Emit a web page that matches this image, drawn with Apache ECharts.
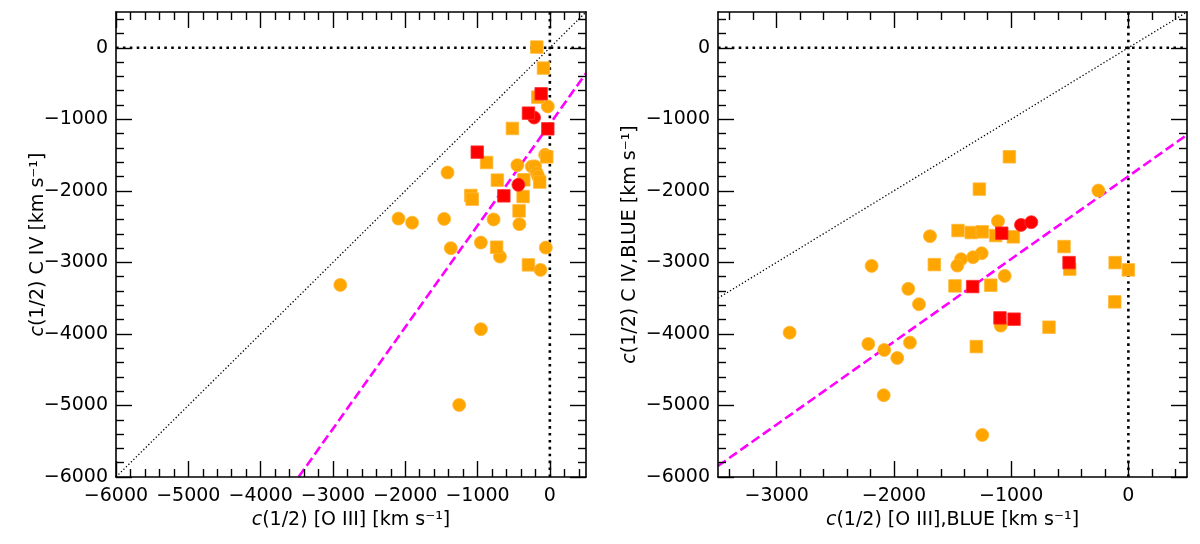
<!DOCTYPE html>
<html>
<head>
<meta charset="utf-8">
<script src="https://cdn.jsdelivr.net/npm/echarts@6/dist/echarts.min.js"></script>
<style>
html,body{margin:0;padding:0;background:#fff;}
#chart{width:1200px;height:544px;}
</style>
</head>
<body>
<div id="chart"></div>
<script>
// ---------- DATA ----------
// Left panel: c(1/2) [O III] vs c(1/2) C IV
const leftOrangeCircles = [
  [-28,-820],[-1415,-1744],[-449,-1641],[-250,-1660],[-205,-1658],[-180,-1750],[-160,-1800],
  [-65,-1497],[-2093,-2388],[-1905,-2445],[-1462,-2392],[-778,-2400],[-421,-2466],
  [-1370,-2801],[-954,-2723],[-690,-2919],[-56,-2793],[-129,-3105],[-2898,-3315],
  [-954,-3934],[-1254,-4993]
];
const leftOrangeSquares = [
  [-180,10],[-88,-284],[-167,-690],[-518,-1128],[-875,-1604],[-42,-1525],[-140,-1877],
  [-360,-1846],[-726,-1850],[-1093,-2065],[-1074,-2116],[-370,-2080],[-426,-2280],
  [-736,-2788],[-296,-3035]
];
const leftRedCircles = [[-218,-975],[-435,-1916]];
const leftRedSquares = [[-120,-643],[-296,-914],[-28,-1133],[-1004,-1459],[-636,-2070]];

// Right panel: c(1/2) [O III],BLUE vs c(1/2) C IV,BLUE
const rightOrangeCircles = [
  [-1112,-2424],[-1692,-2634],[-1251,-2872],[-1325,-2928],[-1427,-2956],[-1459,-3045],
  [-2190,-3049],[-1055,-3189],[-1877,-3370],[-1786,-3585],[-2889,-3982],[-2218,-4140],
  [-2082,-4224],[-1863,-4121],[-1971,-4336],[-2087,-4857],[-1246,-5413],[-1089,-3884],
  [-256,-1996]
];
const rightOrangeSquares = [
  [-1015,-1524],[-1271,-1976],[-1453,-2555],[-1340,-2583],[-1246,-2573],[-1131,-2625],
  [-981,-2643],[-1655,-3031],[-1479,-3329],[-1174,-3319],[-549,-2779],[-500,-3095],
  [-113,-3003],[0,-3105],[-116,-3552],[-677,-3906],[-1297,-4177]
];
const rightRedCircles = [[-916,-2476],[-828,-2438]];
const rightRedSquares = [[-1080,-2592],[-1328,-3338],[-506,-3003],[-1095,-3776],[-975,-3794]];

// Fit lines (slope, intercept)
const leftFit = [1.42, -1066];
const rightFit = [1.157, -1796];

// Axis ranges and major tick labels
const leftXRange = [-6000, 500];
const rightXRange = [-3500, 500];
const yRange = [-6000, 500];
const leftXTicks = [-6000,-5000,-4000,-3000,-2000,-1000,0];
const rightXTicks = [-3000,-2000,-1000,0];
const yTicks = [-6000,-5000,-4000,-3000,-2000,-1000,0];

// ---------- HELPERS ----------
const FONT = 'DejaVu Sans';
const fmt = v => String(v).replace('-', '\u2212');
function minorTicks(range, step, majors) {
  const out = [];
  for (let v = Math.ceil(range[0] / step) * step; v <= range[1]; v += step) {
    if (majors.indexOf(v) < 0 && v > range[0] && v < range[1]) out.push(v);
  }
  return out;
}
const rich = {
  i: {fontFamily: FONT, fontSize: 19, fontStyle: 'italic', color: '#000'}
};
function axis(dim, gridIndex, range, pos, ticks, len, opts) {
  const a = {
    type: 'value', gridIndex: gridIndex, min: range[0], max: range[1], position: pos,
    splitLine: {show: false},
    axisLine: {show: !!opts.line, onZero: false, lineStyle: {color: '#000', width: 1.6}},
    axisTick: {show: true, inside: true, length: len, customValues: ticks, lineStyle: {color: '#000', width: 1.4}},
    axisLabel: {show: false},
    z: 10
  };
  if (opts.labels) {
    a.axisLabel = {show: true, customValues: ticks, formatter: fmt, fontFamily: FONT, fontSize: 19, color: '#000', margin: dim === 'x' ? 10 : 8};
  }
  if (opts.name) {
    a.name = opts.name;
    a.nameLocation = 'middle';
    a.nameGap = opts.nameGap;
    if (opts.noMove) a.nameMoveOverlap = false;
    a.nameTextStyle = {fontFamily: FONT, fontSize: 19, color: '#000', rich: rich};
  }
  return a;
}

const grids = [
  {left: 116, top: 12, width: 470, height: 465},
  {left: 116, top: 12, width: 470, height: 465},
  {left: 718, top: 12, width: 469, height: 465},
  {left: 718, top: 12, width: 469, height: 465}
];

const lxMinor = minorTicks(leftXRange, 200, leftXTicks);
const rxMinor = minorTicks(rightXRange, 200, rightXTicks);
const yMinor = minorTicks(yRange, 200, yTicks);

const xAxes = [
  axis('x', 0, leftXRange, 'bottom', leftXTicks, 16, {line: true, labels: true, name: '{i|c}(1/2) [O III] [km s\u207B\u00B9]', nameGap: 33}),
  axis('x', 0, leftXRange, 'top', leftXTicks, 16, {line: true}),
  axis('x', 1, leftXRange, 'bottom', lxMinor, 8, {}),
  axis('x', 1, leftXRange, 'top', lxMinor, 8, {}),
  axis('x', 2, rightXRange, 'bottom', rightXTicks, 16, {line: true, labels: true, name: '{i|c}(1/2) [O III],BLUE [km s\u207B\u00B9]', nameGap: 33}),
  axis('x', 2, rightXRange, 'top', rightXTicks, 16, {line: true}),
  axis('x', 3, rightXRange, 'bottom', rxMinor, 8, {}),
  axis('x', 3, rightXRange, 'top', rxMinor, 8, {})
];
const yAxes = [
  axis('y', 0, yRange, 'left', yTicks, 16, {line: true, labels: true, name: '{i|c}(1/2) C IV [km s\u207B\u00B9]', nameGap: 68, noMove: true}),
  axis('y', 0, yRange, 'right', yTicks, 16, {line: true}),
  axis('y', 1, yRange, 'left', yMinor, 8, {}),
  axis('y', 1, yRange, 'right', yMinor, 8, {}),
  axis('y', 2, yRange, 'left', yTicks, 16, {line: true, labels: true, name: '{i|c}(1/2) C IV,BLUE [km s\u207B\u00B9]', nameGap: 78}),
  axis('y', 2, yRange, 'right', yTicks, 16, {line: true}),
  axis('y', 3, yRange, 'left', yMinor, 8, {}),
  axis('y', 3, yRange, 'right', yMinor, 8, {})
];

function lineSeries(xi, yi, data, color, width, type, z) {
  return {
    type: 'line', xAxisIndex: xi, yAxisIndex: yi, data: data, symbol: 'none', clip: true,
    lineStyle: {color: color, width: width, type: type, cap: 'butt'}, silent: true, z: z,
    animation: false
  };
}
function scatter(xi, yi, data, symbol, color, z) {
  return {
    type: 'scatter', xAxisIndex: xi, yAxisIndex: yi, data: data, symbol: symbol,
    symbolSize: symbol === 'rect' ? 12.5 : 13,
    itemStyle: {color: color, opacity: 1, borderColor: color === '#FFA500' ? '#FFB733' : '#FF3030', borderWidth: 0.8},
    z: z, animation: false
  };
}
function fitData(fit, range) {
  return [[range[0], fit[0] * range[0] + fit[1]], [range[1], fit[0] * range[1] + fit[1]]];
}

const series = [
  // left panel
  lineSeries(0, 0, [[leftXRange[0], leftXRange[0]], [leftXRange[1], leftXRange[1]]], '#000', 1.3, [1.3, 2.2], 2),
  lineSeries(0, 0, [[leftXRange[0], 0], [leftXRange[1], 0]], '#000', 2.6, [2.6, 4.3], 2),
  lineSeries(0, 0, [[0, yRange[0]], [0, yRange[1]]], '#000', 2.6, [2.6, 4.3], 2),
  lineSeries(0, 0, fitData(leftFit, leftXRange), '#FF00FF', 2.6, [9.5, 4.2], 3),
  scatter(0, 0, leftOrangeCircles, 'circle', '#FFA500', 4),
  scatter(0, 0, leftOrangeSquares, 'rect', '#FFA500', 4),
  scatter(0, 0, leftRedCircles, 'circle', '#FF0000', 5),
  scatter(0, 0, leftRedSquares, 'rect', '#FF0000', 5),
  // right panel
  lineSeries(4, 4, [[rightXRange[0], rightXRange[0]], [rightXRange[1], rightXRange[1]]], '#000', 1.3, [1.3, 2.2], 2),
  lineSeries(4, 4, [[rightXRange[0], 0], [rightXRange[1], 0]], '#000', 2.6, [2.6, 4.3], 2),
  lineSeries(4, 4, [[0, yRange[0]], [0, yRange[1]]], '#000', 2.6, [2.6, 4.3], 2),
  lineSeries(4, 4, fitData(rightFit, rightXRange), '#FF00FF', 2.6, [9.5, 4.2], 3),
  scatter(4, 4, rightOrangeCircles, 'circle', '#FFA500', 4),
  scatter(4, 4, rightOrangeSquares, 'rect', '#FFA500', 4),
  scatter(4, 4, rightRedCircles, 'circle', '#FF0000', 5),
  scatter(4, 4, rightRedSquares, 'rect', '#FF0000', 5)
];

const chart = echarts.init(document.getElementById('chart'), null, {renderer: 'canvas'});
chart.setOption({
  backgroundColor: '#fff',
  animation: false,
  textStyle: {fontFamily: FONT},
  grid: grids,
  xAxis: xAxes,
  yAxis: yAxes,
  series: series
});
</script>
</body>
</html>
